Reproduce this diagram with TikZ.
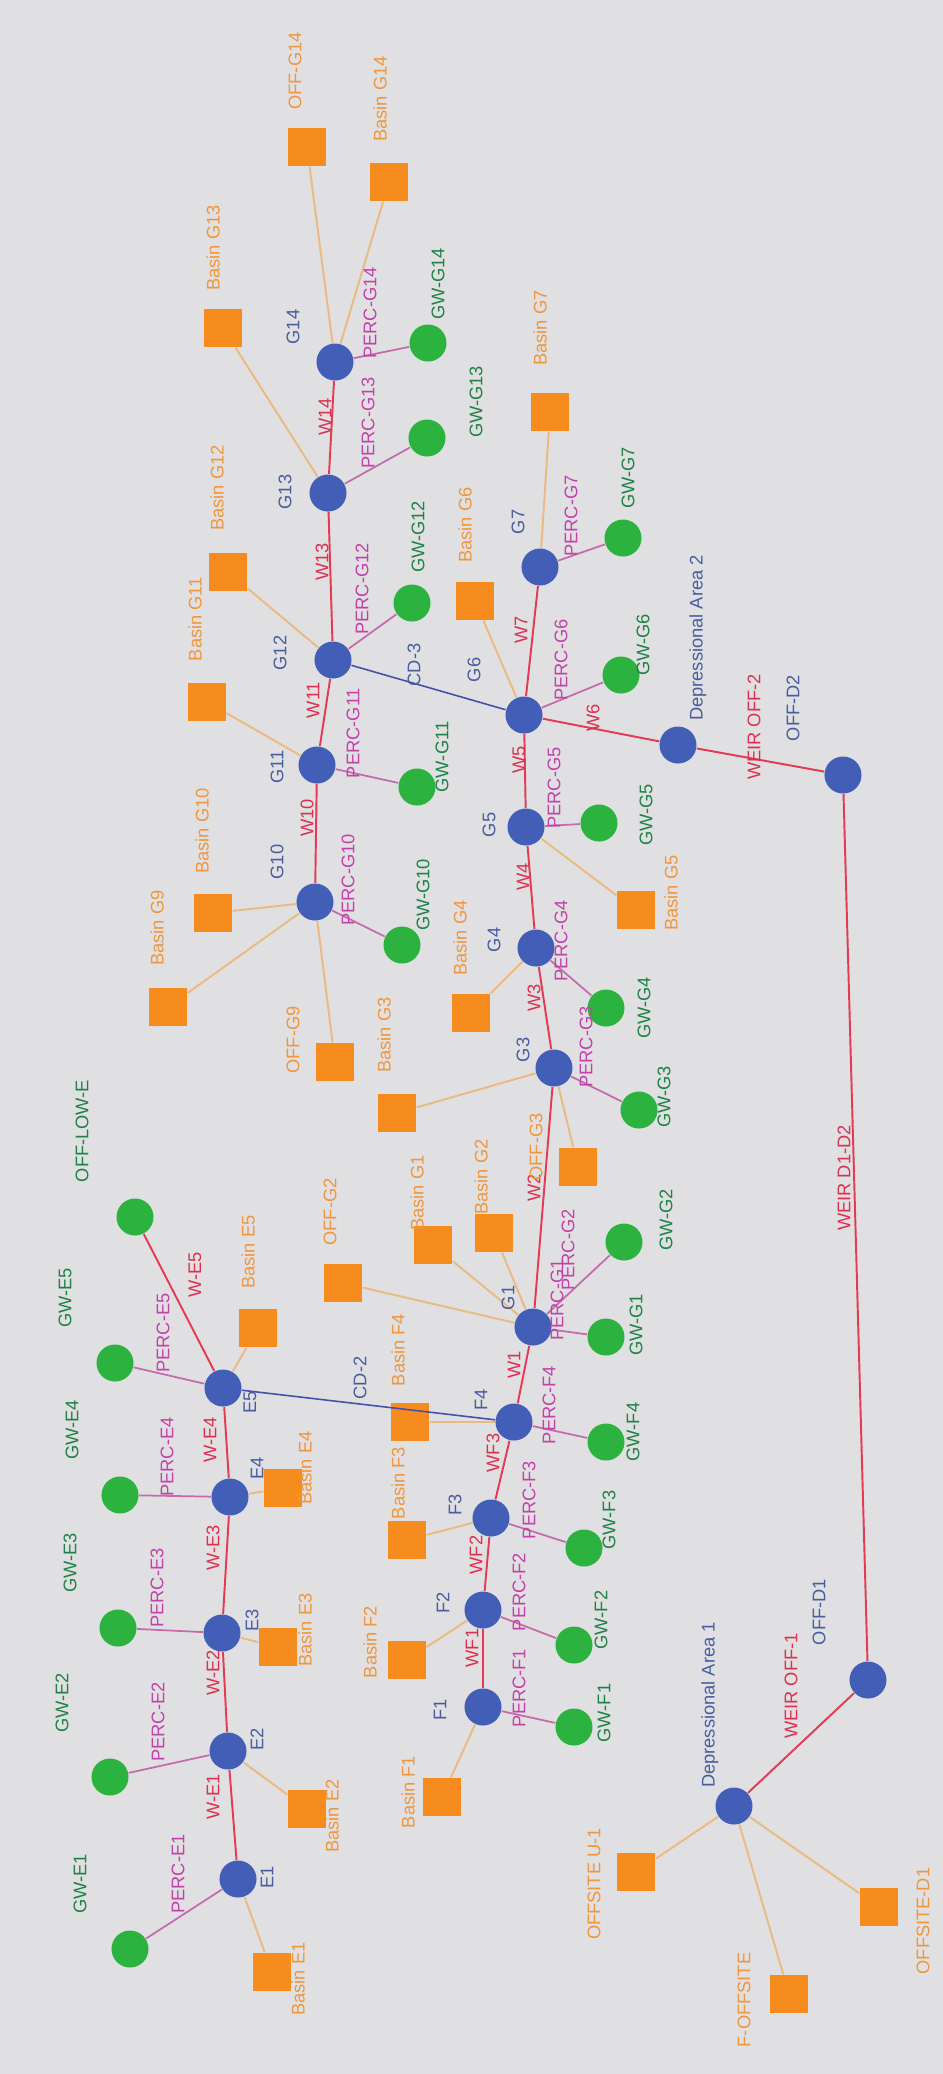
\documentclass[tikz,border=0pt]{standalone}
\usepackage{fontspec}
\setmainfont{Liberation Sans}
\definecolor{bggray}{RGB}{224,224,226}
\definecolor{jblue}{RGB}{66,94,182}
\definecolor{gwgreen}{RGB}{44,178,62}
\definecolor{basinorange}{RGB}{246,140,30}
\definecolor{wred}{RGB}{228,58,84}
\definecolor{wtext}{RGB}{222,48,78}
\definecolor{percpink}{RGB}{196,108,170}
\definecolor{perctext}{RGB}{196,64,170}
\definecolor{basinline}{RGB}{234,186,128}
\definecolor{cdblue}{RGB}{70,80,170}
\definecolor{jtext}{RGB}{72,92,160}
\definecolor{gwtext}{RGB}{30,130,70}
\definecolor{basintext}{RGB}{240,150,60}

\begin{document}
\begin{tikzpicture}[x=0.01cm, y=-0.01cm,
    junc/.style={circle, fill=jblue, minimum size=0.37cm, inner sep=0pt},
    gw/.style={circle, fill=gwgreen, minimum size=0.37cm, inner sep=0pt},
    basin/.style={rectangle, fill=basinorange, minimum size=0.38cm, inner sep=0pt},
    lbl/.style={rotate=90, inner sep=0pt, font=\fontsize{5.2}{6}\selectfont},
    jlbl/.style={lbl, text=jtext},
    gwlbl/.style={lbl, text=gwtext},
    plbl/.style={lbl, text=perctext},
    wlbl/.style={lbl, text=wtext},
    blbl/.style={lbl, text=basintext},
    wlink/.style={wred, line width=0.55pt},
    perc/.style={percpink, line width=0.5pt},
    runoff/.style={basinline, line width=0.55pt},
    cdlink/.style={cdblue, line width=0.45pt}]

  % background
  \fill[bggray] (0,0) rectangle (943,2074);

  % junctions
  \node[junc] (G14) at (335,362) {};
  \node[junc] (G13) at (328,493) {};
  \node[junc] (G12) at (333,660) {};
  \node[junc] (G11) at (317,765) {};
  \node[junc] (G10) at (315,902) {};
  \node[junc] (G7) at (540,567) {};
  \node[junc] (G6) at (524,715) {};
  \node[junc] (G5) at (526,827) {};
  \node[junc] (G4) at (536,948) {};
  \node[junc] (G3) at (554,1068) {};
  \node[junc] (G1) at (533,1327) {};
  \node[junc] (F4) at (514,1422) {};
  \node[junc] (F3) at (491,1518) {};
  \node[junc] (F2) at (483,1610) {};
  \node[junc] (F1) at (483,1707) {};
  \node[junc] (E5) at (223,1388) {};
  \node[junc] (E4) at (230,1497) {};
  \node[junc] (E3) at (222,1633) {};
  \node[junc] (E2) at (228,1751) {};
  \node[junc] (E1) at (238,1879) {};
  \node[junc] (DA2) at (678,745) {};
  \node[junc] (OFFD2) at (843,775) {};
  \node[junc] (OFFD1) at (868,1680) {};
  \node[junc] (DA1) at (734,1806) {};

  % groundwater and outfall
  \node[gw] (gwG14) at (428,343) {};
  \node[gw] (gwG13) at (427,438) {};
  \node[gw] (gwG12) at (412,603) {};
  \node[gw] (gwG11) at (417,787) {};
  \node[gw] (gwG10) at (402,945) {};
  \node[gw] (gwG7) at (623,538) {};
  \node[gw] (gwG6) at (621,675) {};
  \node[gw] (gwG5) at (599,823) {};
  \node[gw] (gwG4) at (606,1008) {};
  \node[gw] (gwG3) at (639,1110) {};
  \node[gw] (gwG2) at (624,1242) {};
  \node[gw] (gwG1) at (606,1337) {};
  \node[gw] (gwF4) at (606,1442) {};
  \node[gw] (gwF3) at (584,1548) {};
  \node[gw] (gwF2) at (574,1645) {};
  \node[gw] (gwF1) at (574,1727) {};
  \node[gw] (gwE5) at (115,1363) {};
  \node[gw] (gwE4) at (120,1495) {};
  \node[gw] (gwE3) at (118,1628) {};
  \node[gw] (gwE2) at (110,1777) {};
  \node[gw] (gwE1) at (130,1949) {};
  \node[gw] (offLowE) at (135,1217) {};

  % basins
  \node[basin] (offG14) at (307,147) {};
  \node[basin] (bG14) at (389,182) {};
  \node[basin] (bG13) at (223,328) {};
  \node[basin] (bG12) at (228,572) {};
  \node[basin] (bG11) at (207,702) {};
  \node[basin] (bG10) at (213,913) {};
  \node[basin] (bG9) at (168,1007) {};
  \node[basin] (offG9) at (335,1062) {};
  \node[basin] (bG7) at (550,412) {};
  \node[basin] (bG6) at (475,601) {};
  \node[basin] (bG5) at (636,910) {};
  \node[basin] (bG4) at (471,1013) {};
  \node[basin] (bG3) at (397,1113) {};
  \node[basin] (offG3) at (578,1167) {};
  \node[basin] (bG2) at (494,1233) {};
  \node[basin] (bG1) at (433,1245) {};
  \node[basin] (offG2) at (343,1283) {};
  \node[basin] (bF4) at (410,1422) {};
  \node[basin] (bF3) at (407,1540) {};
  \node[basin] (bF2) at (407,1660) {};
  \node[basin] (bF1) at (442,1797) {};
  \node[basin] (bE5) at (258,1328) {};
  \node[basin] (bE4) at (283,1488) {};
  \node[basin] (bE3) at (278,1647) {};
  \node[basin] (bE2) at (307,1809) {};
  \node[basin] (bE1) at (272,1972) {};
  \node[basin] (offsiteU1) at (636,1872) {};
  \node[basin] (fOffsite) at (789,1994) {};
  \node[basin] (offsiteD1) at (879,1907) {};

  % conduits and weirs
  \draw[wlink] (E1) -- (E2);
  \draw[wlink] (E2) -- (E3);
  \draw[wlink] (E3) -- (E4);
  \draw[wlink] (E4) -- (E5);
  \draw[wlink] (E5) -- (offLowE);
  \draw[wlink] (F1) -- (F2);
  \draw[wlink] (F2) -- (F3);
  \draw[wlink] (F3) -- (F4);
  \draw[wlink] (F4) -- (G1);
  \draw[wlink] (G1) -- (G3);
  \draw[wlink] (G3) -- (G4);
  \draw[wlink] (G4) -- (G5);
  \draw[wlink] (G5) -- (G6);
  \draw[wlink] (G6) -- (G7);
  \draw[wlink] (G6) -- (DA2);
  \draw[wlink] (DA2) -- (OFFD2);
  \draw[wlink] (OFFD2) -- (OFFD1);
  \draw[wlink] (OFFD1) -- (DA1);
  \draw[wlink] (G10) -- (G11);
  \draw[wlink] (G11) -- (G12);
  \draw[wlink] (G12) -- (G13);
  \draw[wlink] (G13) -- (G14);
  \draw[cdlink] (G12) -- (G6);
  \draw[cdlink] (E5) -- (F4);

  % percolation
  \draw[perc] (G14) -- (gwG14);
  \draw[perc] (G13) -- (gwG13);
  \draw[perc] (G12) -- (gwG12);
  \draw[perc] (G11) -- (gwG11);
  \draw[perc] (G10) -- (gwG10);
  \draw[perc] (G7) -- (gwG7);
  \draw[perc] (G6) -- (gwG6);
  \draw[perc] (G5) -- (gwG5);
  \draw[perc] (G4) -- (gwG4);
  \draw[perc] (G3) -- (gwG3);
  \draw[perc] (G1) -- (gwG2);
  \draw[perc] (G1) -- (gwG1);
  \draw[perc] (F4) -- (gwF4);
  \draw[perc] (F3) -- (gwF3);
  \draw[perc] (F2) -- (gwF2);
  \draw[perc] (F1) -- (gwF1);
  \draw[perc] (E5) -- (gwE5);
  \draw[perc] (E4) -- (gwE4);
  \draw[perc] (E3) -- (gwE3);
  \draw[perc] (E2) -- (gwE2);
  \draw[perc] (E1) -- (gwE1);

  % runoff
  \draw[runoff] (offG14) -- (G14);
  \draw[runoff] (bG14) -- (G14);
  \draw[runoff] (bG13) -- (G13);
  \draw[runoff] (bG12) -- (G12);
  \draw[runoff] (bG11) -- (G11);
  \draw[runoff] (bG10) -- (G10);
  \draw[runoff] (bG9) -- (G10);
  \draw[runoff] (offG9) -- (G10);
  \draw[runoff] (bG7) -- (G7);
  \draw[runoff] (bG6) -- (G6);
  \draw[runoff] (bG5) -- (G5);
  \draw[runoff] (bG4) -- (G4);
  \draw[runoff] (bG3) -- (G3);
  \draw[runoff] (offG3) -- (G3);
  \draw[runoff] (bG2) -- (G1);
  \draw[runoff] (bG1) -- (G1);
  \draw[runoff] (offG2) -- (G1);
  \draw[runoff] (bF4) -- (F4);
  \draw[runoff] (bF3) -- (F3);
  \draw[runoff] (bF2) -- (F2);
  \draw[runoff] (bF1) -- (F1);
  \draw[runoff] (bE5) -- (E5);
  \draw[runoff] (bE4) -- (E4);
  \draw[runoff] (bE3) -- (E3);
  \draw[runoff] (bE2) -- (E2);
  \draw[runoff] (bE1) -- (E1);
  \draw[runoff] (offsiteU1) -- (DA1);
  \draw[runoff] (fOffsite) -- (DA1);
  \draw[runoff] (offsiteD1) -- (DA1);

  % junction labels
  \node[jlbl] (lG14) at (293,327) {G14};
  \node[jlbl] (lG13) at (285,492) {G13};
  \node[jlbl] (lG12) at (280,653) {G12};
  \node[jlbl] (lG11) at (277,767) {G11};
  \node[jlbl] (lG10) at (277,862) {G10};
  \node[jlbl] (lG7) at (518,522) {G7};
  \node[jlbl] (lG6) at (474,670) {G6};
  \node[jlbl] (lG5) at (489,825) {G5};
  \node[jlbl] (lG4) at (494,940) {G4};
  \node[jlbl] (lG3) at (523,1050) {G3};
  \node[jlbl] (lG1) at (508,1298) {G1};
  \node[jlbl] (lF4) at (481,1400) {F4};
  \node[jlbl] (lF3) at (455,1505) {F3};
  \node[jlbl] (lF2) at (443,1603) {F2};
  \node[jlbl] (lF1) at (440,1710) {F1};
  \node[jlbl] (lE5) at (250,1402) {E5};
  \node[jlbl] (lE4) at (257,1468) {E4};
  \node[jlbl] (lE3) at (252,1620) {E3};
  \node[jlbl] (lE2) at (257,1739) {E2};
  \node[jlbl] (lE1) at (267,1877) {E1};
  \node[jlbl] (lDA2) at (698,638) {Depressional Area 2};
  \node[jlbl] (lOFFD2) at (793,708) {OFF-D2};
  \node[jlbl] (lDA1) at (710,1705) {Depressional Area 1};
  \node[jlbl] (lOFFD1) at (819,1612) {OFF-D1};
  \node[jlbl] (lCD3) at (414,665) {CD-3};
  \node[jlbl] (lCD2) at (360,1378) {CD-2};

  % groundwater labels
  \node[gwlbl] (lgwG14) at (438,284) {GW-G14};
  \node[gwlbl] (lgwG13) at (476,402) {GW-G13};
  \node[gwlbl] (lgwG12) at (418,537) {GW-G12};
  \node[gwlbl] (lgwG11) at (442,757) {GW-G11};
  \node[gwlbl] (lgwG10) at (423,895) {GW-G10};
  \node[gwlbl] (lgwG7) at (628,478) {GW-G7};
  \node[gwlbl] (lgwG6) at (643,645) {GW-G6};
  \node[gwlbl] (lgwG5) at (646,815) {GW-G5};
  \node[gwlbl] (lgwG4) at (644,1008) {GW-G4};
  \node[gwlbl] (lgwG3) at (664,1097) {GW-G3};
  \node[gwlbl] (lgwG2) at (666,1220) {GW-G2};
  \node[gwlbl] (lgwG1) at (636,1325) {GW-G1};
  \node[gwlbl] (lgwF4) at (633,1432) {GW-F4};
  \node[gwlbl] (lgwF3) at (609,1520) {GW-F3};
  \node[gwlbl] (lgwF2) at (601,1620) {GW-F2};
  \node[gwlbl] (lgwF1) at (604,1713) {GW-F1};
  \node[gwlbl] (lgwE5) at (65,1298) {GW-E5};
  \node[gwlbl] (lgwE4) at (72,1430) {GW-E4};
  \node[gwlbl] (lgwE3) at (70,1563) {GW-E3};
  \node[gwlbl] (lgwE2) at (62,1703) {GW-E2};
  \node[gwlbl] (lgwE1) at (80,1884) {GW-E1};
  \node[gwlbl] (loffLowE) at (82,1131) {OFF-LOW-E};

  % percolation labels
  \node[plbl] (lpG14) at (370,313) {PERC-G14};
  \node[plbl] (lpG13) at (368,423) {PERC-G13};
  \node[plbl] (lpG12) at (362,589) {PERC-G12};
  \node[plbl] (lpG11) at (353,733) {PERC-G11};
  \node[plbl] (lpG10) at (348,880) {PERC-G10};
  \node[plbl] (lpG7) at (571,516) {PERC-G7};
  \node[plbl] (lpG6) at (561,660) {PERC-G6};
  \node[plbl] (lpG5) at (554,788) {PERC-G5};
  \node[plbl] (lpG4) at (561,941) {PERC-G4};
  \node[plbl] (lpG3) at (586,1047) {PERC-G3};
  \node[plbl] (lpG2) at (568,1250) {PERC-G2};
  \node[plbl] (lpG1) at (557,1300) {PERC-G1};
  \node[plbl] (lpF4) at (549,1405) {PERC-F4};
  \node[plbl] (lpF3) at (529,1500) {PERC-F3};
  \node[plbl] (lpF2) at (519,1592) {PERC-F2};
  \node[plbl] (lpF1) at (519,1688) {PERC-F1};
  \node[plbl] (lpE5) at (163,1333) {PERC-E5};
  \node[plbl] (lpE4) at (167,1457) {PERC-E4};
  \node[plbl] (lpE3) at (157,1588) {PERC-E3};
  \node[plbl] (lpE2) at (158,1722) {PERC-E2};
  \node[plbl] (lpE1) at (178,1874) {PERC-E1};

  % link labels
  \node[wlbl] (lwG14) at (325,417) {W14};
  \node[wlbl] (lwG13) at (322,562) {W13};
  \node[wlbl] (lwG11) at (313,700) {W11};
  \node[wlbl] (lwG10) at (307,818) {W10};
  \node[wlbl] (lwG7) at (521,630) {W7};
  \node[wlbl] (lwG6) at (593,718) {W6};
  \node[wlbl] (lwG5) at (519,760) {W5};
  \node[wlbl] (lwG4) at (523,877) {W4};
  \node[wlbl] (lwG3) at (534,998) {W3};
  \node[wlbl] (lwG2) at (534,1188) {W2};
  \node[wlbl] (lwG1) at (514,1365) {W1};
  \node[wlbl] (lwF3) at (493,1453) {WF3};
  \node[wlbl] (lwF2) at (476,1555) {WF2};
  \node[wlbl] (lwF1) at (472,1648) {WF1};
  \node[wlbl] (lwE5) at (195,1275) {W-E5};
  \node[wlbl] (lwE4) at (210,1440) {W-E4};
  \node[wlbl] (lwE3) at (213,1548) {W-E3};
  \node[wlbl] (lwE2) at (213,1673) {W-E2};
  \node[wlbl] (lwE1) at (213,1797) {W-E1};
  \node[wlbl] (lwOff2) at (754,727) {WEIR OFF-2};
  \node[wlbl] (lwOff1) at (791,1686) {WEIR OFF-1};
  \node[wlbl] (lwD1D2) at (844,1178) {WEIR D1-D2};

  % basin labels
  \node[blbl] (loffG14) at (295,71) {OFF-G14};
  \node[blbl] (lbG14) at (380,99) {Basin G14};
  \node[blbl] (lbG13) at (213,248) {Basin G13};
  \node[blbl] (lbG12) at (217,488) {Basin G12};
  \node[blbl] (lbG11) at (195,619) {Basin G11};
  \node[blbl] (lbG10) at (202,831) {Basin G10};
  \node[blbl] (lbG9) at (157,928) {Basin G9};
  \node[blbl] (loffG9) at (293,1040) {OFF-G9};
  \node[blbl] (lbG7) at (540,328) {Basin G7};
  \node[blbl] (lbG6) at (465,525) {Basin G6};
  \node[blbl] (lbG5) at (671,893) {Basin G5};
  \node[blbl] (lbG4) at (460,938) {Basin G4};
  \node[blbl] (lbG3) at (384,1035) {Basin G3};
  \node[blbl] (loffG3) at (536,1147) {OFF-G3};
  \node[blbl] (lbG2) at (481,1177) {Basin G2};
  \node[blbl] (lbG1) at (417,1193) {Basin G1};
  \node[blbl] (loffG2) at (330,1212) {OFF-G2};
  \node[blbl] (lbE5) at (248,1252) {Basin E5};
  \node[blbl] (lbF4) at (398,1350) {Basin F4};
  \node[blbl] (lbF3) at (398,1483) {Basin F3};
  \node[blbl] (lbF2) at (370,1642) {Basin F2};
  \node[blbl] (lbF1) at (408,1792) {Basin F1};
  \node[blbl] (lbE4) at (305,1468) {Basin E4};
  \node[blbl] (lbE3) at (305,1630) {Basin E3};
  \node[blbl] (lbE2) at (332,1816) {Basin E2};
  \node[blbl] (lbE1) at (298,1979) {Basin E1};
  \node[blbl] (loffsiteU1) at (594,1884) {OFFSITE U-1};
  \node[blbl] (lfOffsite) at (744,2000) {F-OFFSITE};
  \node[blbl] (loffsiteD1) at (923,1921) {OFFSITE-D1};
\end{tikzpicture}
\end{document}
